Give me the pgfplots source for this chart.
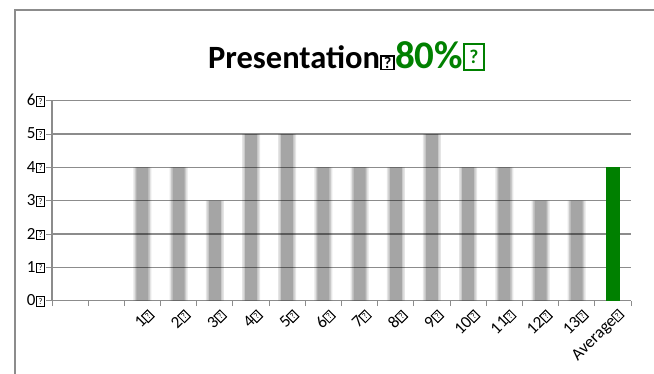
\documentclass[border=0pt]{standalone}
\usepackage{graphicx}
\usepackage{pgfplots}
\pgfplotsset{compat=1.18}
\usepackage{fontspec}
\setmainfont{Carlito}
\definecolor{gridgray}{HTML}{8C8C8C}
\definecolor{bargreen}{HTML}{008000}
% box standing in for a missing glyph: width, height, rule
\newcommand\qbx[3]{{\fboxsep=0pt\fboxrule=#3\fbox{\makebox[#1][c]{\vbox to #2{\vfil\hbox{\scalebox{0.5}{?}}\vfil}}}}}
\newcommand\qb{\kern0.03em\qbx{0.42em}{0.5em}{0.06em}}
\pgfplotstableread{
x y
2 4
3 4
4 3
5 5
6 5
7 4
8 4
9 4
10 5
11 4
12 4
13 3
14 3
}\graydata
\pgfplotstableread{
x y
15 4
}\greendata
\begin{document}
\begin{tikzpicture}
\useasboundingbox (0,0) rectangle (654pt,374pt);
\draw[gridgray, line width=1.5pt] (15pt,0) -- (15pt,364pt) -- (654pt,364pt);
\begin{axis}[
  at={(52pt,73.3pt)}, anchor=south west,
  scale only axis, width=579pt, height=200pt,
  xmin=-0.5, xmax=15.5, ymin=0, ymax=6,
  axis x line*=bottom, axis y line*=left,
  axis line style={gridgray, line width=1.2pt, -},
  ytick={0,...,6},
  yticklabels={0\qb,1\qb,2\qb,3\qb,4\qb,5\qb,6\qb},
  ymajorgrids, grid style={gridgray, line width=1.2pt},
  xtick={-0.5,0.5,...,15.5}, xticklabels={},
  extra x ticks={2,...,15},
  extra x tick labels={1\qb,2\qb,3\qb,4\qb,5\qb,6\qb,7\qb,8\qb,9\qb,10\qb,11\qb,12\qb,13\qb,Average\qb},
  extra x tick style={major tick length=0pt},
  tick style={gridgray, line width=1pt},
  tick align=outside, major tick length=5.5pt,
  /pgf/number format/assume math mode=true,
  ticklabel style={font=\fontsize{17}{17}\selectfont},
  yticklabel style={inner sep=1pt},
  x tick label style={xshift=9pt, yshift=-11pt, rotate=45, anchor=east, inner sep=1pt},
  title={\fontsize{32.5}{32.5}\selectfont\bfseries Presentation\qbx{0.36em}{0.36em}{0.05em}\textcolor{bargreen}{\fontsize{39}{39}\selectfont 80\%\qbx{0.46em}{0.6em}{0.05em}}},
  title style={at={(0.5,1)}, anchor=base, yshift=26pt, xshift=5pt, inner sep=0pt},
]
\addplot[ybar, bar width=18pt, bar shift=0pt, fill=black, fill opacity=0.10, draw=none] table[x=x,y=y] {\graydata};
\addplot[ybar, bar width=15pt, bar shift=0pt, fill=black, fill opacity=0.12, draw=none] table[x=x,y=y] {\graydata};
\addplot[ybar, bar width=12pt, bar shift=0pt, fill=black, fill opacity=0.18, draw=none] table[x=x,y=y] {\graydata};
\addplot[ybar, bar width=14pt, bar shift=0pt, fill=bargreen, draw=none] table[x=x,y=y] {\greendata};
\end{axis}
\end{tikzpicture}
\end{document}
